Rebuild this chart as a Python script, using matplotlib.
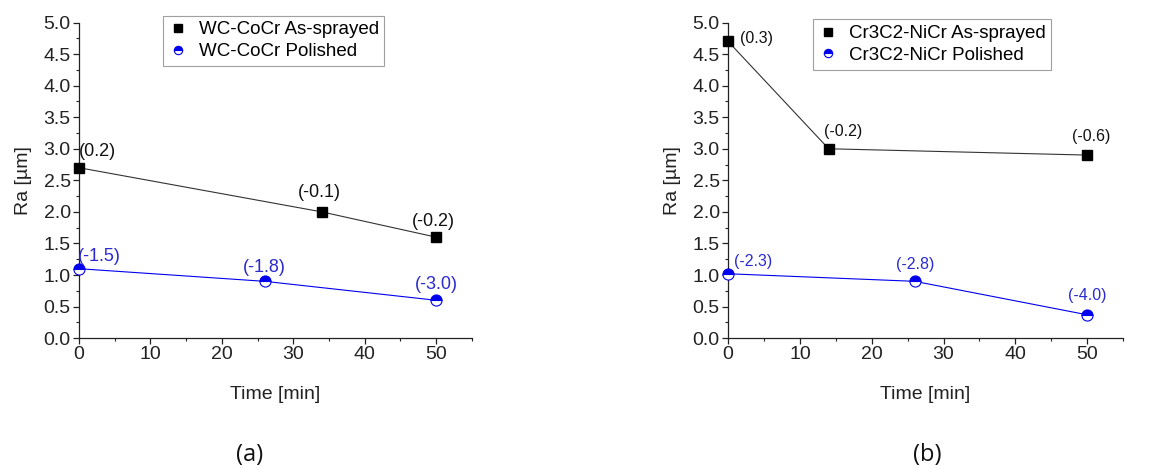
import matplotlib.pyplot as plt
from matplotlib.ticker import MultipleLocator

plt.rcParams['font.family'] = ['Liberation Sans', 'DejaVu Sans']

# panel (a): WC-CoCr
a_time_sprayed = [0, 34, 50]
a_ra_sprayed = [2.7, 2.0, 1.6]
a_lbl_sprayed = ['(0.2)', '(-0.1)', '(-0.2)']
a_time_polished = [0, 26, 50]
a_ra_polished = [1.1, 0.9, 0.6]
a_lbl_polished = ['(-1.5)', '(-1.8)', '(-3.0)']

# panel (b): Cr3C2-NiCr
b_time_sprayed = [0, 14, 50]
b_ra_sprayed = [4.7, 3.0, 2.9]
b_lbl_sprayed = ['(0.3)', '(-0.2)', '(-0.6)']
b_time_polished = [0, 26, 50]
b_ra_polished = [1.02, 0.9, 0.37]
b_lbl_polished = ['(-2.3)', '(-2.8)', '(-4.0)']

BLUE = '#0000ee'
TXT_BLUE = '#2a2ad0'

fig = plt.figure(figsize=(11.65, 4.69), dpi=100)
ax_a = fig.add_axes([0.0678, 0.279, 0.3372, 0.673])
ax_b = fig.add_axes([0.625, 0.279, 0.339, 0.673])


def panel(ax, ts, rs, ls, tp, rp, lp, name, offs_s, offs_p, fs_s, fs_p, leg_x, leg_top):
    ax.plot(ts, rs, color='#333333', lw=0.8, marker='s', ms=7,
            mfc='black', mec='black', label=f'{name} As-sprayed', zorder=3, clip_on=False)
    ax.plot(tp, rp, color=BLUE, lw=0.8, marker='o', ms=8, fillstyle='top',
            mfc=BLUE, mfcalt='white', mec=BLUE, mew=0.8,
            label=f'{name} Polished', zorder=3, clip_on=False)
    for x, y, t, (dx, dy) in zip(ts, rs, ls, offs_s):
        ax.text(x + dx, y + dy, t, fontsize=fs_s, color='#111111', ha='center', va='center')
    for x, y, t, (dx, dy) in zip(tp, rp, lp, offs_p):
        ax.text(x + dx, y + dy, t, fontsize=fs_p, color=TXT_BLUE, ha='center', va='center')

    ax.set_xlim(0, 55)
    ax.set_ylim(0, 5)
    ax.xaxis.set_major_locator(MultipleLocator(10))
    ax.xaxis.set_minor_locator(MultipleLocator(5))
    ax.yaxis.set_major_locator(MultipleLocator(0.5))
    ax.yaxis.set_minor_locator(MultipleLocator(0.25))
    ax.yaxis.set_major_formatter(plt.FuncFormatter(lambda v, p: f'{v:.1f}'))
    ax.spines['top'].set_visible(False)
    ax.spines['right'].set_visible(False)
    for s in ('left', 'bottom'):
        ax.spines[s].set_color('#222222')
        ax.spines[s].set_linewidth(0.9)
    ax.tick_params(which='major', direction='out', length=4, width=0.9,
                   labelsize=14, colors='#222222', pad=2)
    ax.tick_params(which='minor', direction='out', length=2.5, width=0.8, colors='#222222')
    ax.set_xlabel('Time [min]', fontsize=14, color='#222222', labelpad=16)
    ax.set_ylabel('Ra [\u00b5m]', fontsize=14, color='#222222', labelpad=8)
    leg = ax.legend(loc='upper left', bbox_to_anchor=(leg_x, leg_top), fontsize=13.5,
                    frameon=True, fancybox=False, edgecolor='#888888', numpoints=1,
                    handlelength=1.0, handletextpad=0.6, borderpad=0.3,
                    labelspacing=0.25, borderaxespad=0)
    leg.get_frame().set_linewidth(0.8)
    for h in leg.legend_handles:
        h.set_linestyle('None')
        h.set_markersize(6)


panel(ax_a, a_time_sprayed, a_ra_sprayed, a_lbl_sprayed,
      a_time_polished, a_ra_polished, a_lbl_polished, 'WC-CoCr',
      [(2.6, 0.25), (-0.4, 0.3), (-0.4, 0.25)],
      [(2.9, 0.2), (0, 0.22), (0, 0.25)],
      13, 13, 0.214, 1.022)
panel(ax_b, b_time_sprayed, b_ra_sprayed, b_lbl_sprayed,
      b_time_polished, b_ra_polished, b_lbl_polished, 'Cr3C2-NiCr',
      [(4.0, 0.05), (2.0, 0.28), (0.5, 0.3)],
      [(3.5, 0.2), (0, 0.27), (0, 0.3)],
      11.5, 11.5, 0.215, 1.01)

fig.text(0.214, 0.03, '(a)', fontsize=17, ha='center', va='center',
         family=['Open Sans', 'DejaVu Sans'], color='#111111')
fig.text(0.796, 0.03, '(b)', fontsize=17, ha='center', va='center',
         family=['Open Sans', 'DejaVu Sans'], color='#111111')

fig.savefig('out.png', dpi=100, facecolor='white')
